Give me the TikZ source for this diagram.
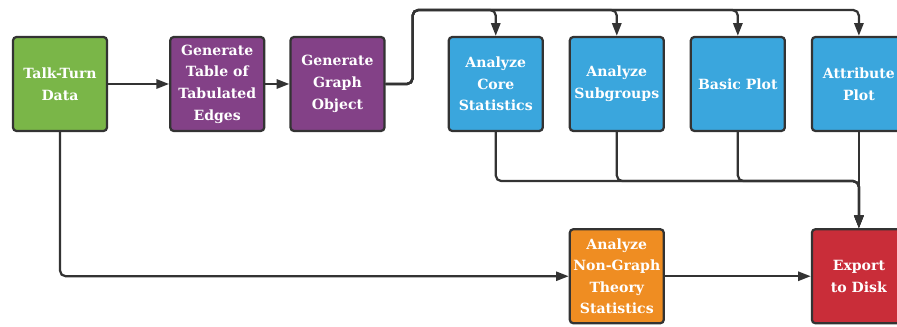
\documentclass[tikz,border=0pt]{standalone}
\usepackage{fontspec}
\setmainfont{DejaVu Serif}
\usetikzlibrary{arrows.meta, positioning}
\definecolor{xgreen}{HTML}{7AB648}
\definecolor{xpurple}{HTML}{834187}
\definecolor{xblue}{HTML}{3AA6DD}
\definecolor{xorange}{HTML}{EF8D22}
\definecolor{xred}{HTML}{C92D39}
\definecolor{xdark}{HTML}{333333}
\tikzset{
  stage/.style={draw=xdark, line width=1.6pt, fill=#1, rounded corners=2.5pt,
    minimum size=2.35cm, inner sep=0pt, align=center, text=white,
    font=\bfseries\fontsize{10}{15.4}\selectfont},
  link/.style={draw=xdark, line width=1.6pt, rounded corners=4pt,
    -{Triangle[length=9pt, width=6.5pt]}},
}

\begin{document}
\begin{tikzpicture}
  \useasboundingbox (0,0) rectangle (22.425,8.175);
  \clip (0,0) rectangle (22.425,8.175);

  % pipeline, top row
  \node[stage=xgreen] (talk) at (1.5,6.075) {Talk-Turn\\Data};
  \node[stage=xpurple, right=1.525cm of talk] (table) {Generate\\Table of\\Tabulated\\Edges};
  \node[stage=xpurple, right=0.6cm of table] (graph) {Generate\\Graph\\Object};
  \node[stage=xblue, right=1.55cm of graph] (core) {Analyze\\Core\\Statistics};
  \node[stage=xblue, right=0.62cm of core] (sub) {Analyze\\Subgroups};
  \node[stage=xblue, right=0.62cm of sub] (basic) {Basic Plot};
  \node[stage=xblue, right=0.62cm of basic] (attr) {Attribute\\Plot};

  % bottom row
  \node[stage=xorange, below=2.4cm of sub] (nongraph) {Analyze\\Non-Graph\\Theory\\Statistics};
  \node[stage=xred, below=2.4cm of attr] (export) {Export\\to Disk};

  \coordinate[above right=1.85cm and 0.675cm of graph.east] (bus);
  \coordinate[below=1.225cm of attr.south] (merge);

  \draw[link] (talk) -- (table);
  \draw[link] (table) -- (graph);
  \foreach \t in {core, sub, basic, attr}
    \draw[link] (graph.east) -| (bus) -| (\t.north);
  \foreach \t in {core, sub, basic}
    \draw[link] (\t.south) |- (merge) -- (export.north);
  \draw[link] (attr) -- (export);
  \draw[link] (talk.south) |- (nongraph);
  \draw[link] (nongraph) -- (export);
\end{tikzpicture}
\end{document}
